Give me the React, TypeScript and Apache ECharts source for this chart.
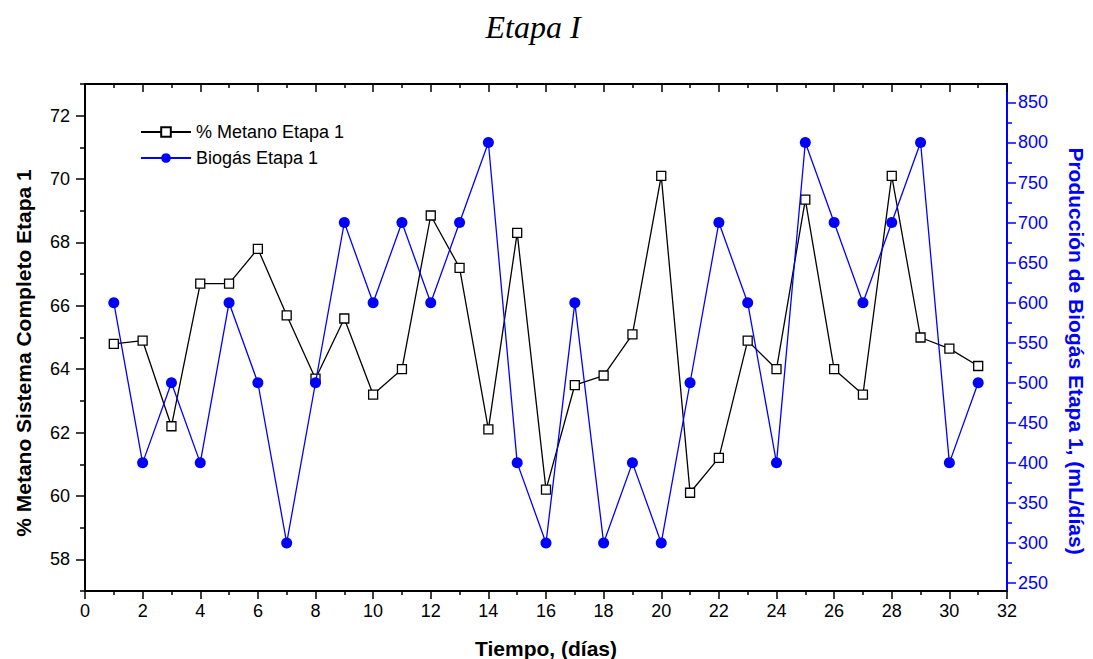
import React, { useEffect, useRef } from "react";
import * as echarts from "echarts";

const days = [1, 2, 3, 4, 5, 6, 7, 8, 9, 10, 11, 12, 13, 14, 15, 16, 17, 18, 19, 20, 21, 22, 23, 24, 25, 26, 27, 28, 29, 30, 31];
const metano = [64.8, 64.9, 62.2, 66.7, 66.7, 67.8, 65.7, 63.7, 65.6, 63.2, 64.0, 68.85, 67.2, 62.1, 68.3, 60.2, 63.5, 63.8, 65.1, 70.1, 60.1, 61.2, 64.9, 64.0, 69.35, 64.0, 63.2, 70.1, 65.0, 64.65, 64.1];
const biogas = [600, 400, 500, 400, 600, 500, 300, 500, 700, 600, 700, 600, 700, 800, 400, 300, 600, 300, 400, 300, 500, 700, 600, 400, 800, 700, 600, 700, 800, 400, 500];

const leftMajor = [58, 60, 62, 64, 66, 68, 70, 72];
const rightMajor = [250, 300, 350, 400, 450, 500, 550, 600, 650, 700, 750, 800, 850];
const rightMinor = [275, 325, 375, 425, 475, 525, 575, 625, 675, 725, 775, 825];

const seriesNames = ["% Metano Etapa 1", "Biogás Etapa 1"];
const title = "Etapa I";
const xName = "Tiempo, (días)";
const yLeftName = "% Metano Sistema Completo Etapa 1";
const yRightName = "Producción de Biogás Etapa 1, (mL/días)";

const FONT = "Liberation Sans, Arial, sans-serif";
const BLUE = "#0000ff";

export default function App() {
  const ref = useRef<HTMLDivElement>(null);
  useEffect(() => {
    document.body.style.margin = "0";
    const chart = echarts.init(ref.current!, undefined, { renderer: "svg" });
    const labelStyle = { fontFamily: FONT, fontSize: 18, color: "#000" };
    const option: any = {
      animation: false,
      backgroundColor: "#fff",
      grid: { left: 85, right: 86, top: 84, bottom: 68, containLabel: false, outerBoundsMode: "none" },
      legend: {
        orient: "vertical",
        left: 140,
        top: 123,
        padding: 0,
        itemWidth: 50,
        itemHeight: 12,
        itemGap: 8,
        textStyle: { fontFamily: FONT, fontSize: 18, color: "#000" },
        data: seriesNames,
      },
      xAxis: [
        {
          type: "value",
          min: 0,
          max: 32,
          interval: 2,
          position: "bottom",
          axisLine: { show: true, onZero: false, lineStyle: { color: "#000", width: 2 } },
          axisTick: { show: true, length: 8, lineStyle: { color: "#000", width: 1.5 } },
          minorTick: { show: true, splitNumber: 2, length: 4, lineStyle: { color: "#000", width: 1.5 } },
          axisLabel: { ...labelStyle, margin: 11 },
          splitLine: { show: false },
        },
        {
          type: "value",
          min: 0,
          max: 32,
          interval: 2,
          position: "top",
          axisLine: { show: true, onZero: false, lineStyle: { color: "#000", width: 2 } },
          axisTick: { show: true, inside: true, length: 8, lineStyle: { color: "#000", width: 1.5 } },
          minorTick: { show: true, splitNumber: 2, length: 4, lineStyle: { color: "#000", width: 1.5 } },
          axisLabel: { show: false },
          splitLine: { show: false },
        },
      ],
      yAxis: [
        {
          type: "value",
          min: 57,
          max: 73,
          interval: 2,
          position: "left",
          axisLine: { show: true, onZero: false, lineStyle: { color: "#000", width: 2 } },
          axisTick: { show: true, length: 5, lineStyle: { color: "#000", width: 1.5 } },
          minorTick: { show: true, splitNumber: 2, length: 9, lineStyle: { color: "#000", width: 1.5 } },
          axisLabel: { ...labelStyle, margin: 15, customValues: leftMajor },
          splitLine: { show: false },
          minorSplitLine: { show: false },
        },
        {
          type: "value",
          min: 240,
          max: 873,
          position: "right",
          axisLine: { show: true, onZero: false, lineStyle: { color: BLUE, width: 2 } },
          axisTick: { show: true, length: 9, customValues: rightMajor, lineStyle: { color: BLUE, width: 1.5 } },
          axisLabel: { fontFamily: FONT, fontSize: 18, color: BLUE, margin: 11, customValues: rightMajor },
          splitLine: { show: false },
        },
        {
          type: "value",
          min: 240,
          max: 873,
          position: "right",
          axisLine: { show: false, onZero: false },
          axisTick: { show: true, inside: false, length: 5, customValues: rightMinor, lineStyle: { color: BLUE, width: 1.5 } },
          axisLabel: { show: false, customValues: rightMinor },
          splitLine: { show: false },
        },
      ],
      series: [
        {
          name: seriesNames[0],
          type: "line",
          xAxisIndex: 0,
          yAxisIndex: 0,
          data: days.map((d, i) => [d, metano[i]]),
          symbol: "rect",
          symbolSize: 9,
          lineStyle: { color: "#000", width: 1.3 },
          itemStyle: { color: "#fff", borderColor: "#000", borderWidth: 1.3 },
          z: 2,
        },
        {
          name: seriesNames[1],
          type: "line",
          xAxisIndex: 0,
          yAxisIndex: 1,
          data: days.map((d, i) => [d, biogas[i]]),
          symbol: "circle",
          symbolSize: 11,
          lineStyle: { color: BLUE, width: 1.3 },
          itemStyle: { color: BLUE, borderWidth: 0 },
          z: 3,
        },
      ],
      graphic: [
        {
          type: "text",
          x: 533,
          y: 27,
          style: { text: title, font: "italic 32px 'Liberation Serif', 'Times New Roman', serif", fill: "#000", textAlign: "center", textVerticalAlign: "middle" },
        },
        {
          type: "text",
          x: 546,
          y: 648,
          style: { text: xName, font: `bold 21px ${FONT}`, fill: "#000", textAlign: "center", textVerticalAlign: "middle" },
        },
        {
          type: "text",
          x: 23,
          y: 353,
          rotation: Math.PI / 2,
          style: { text: yLeftName, font: `bold 21px ${FONT}`, fill: "#000", textAlign: "center", textVerticalAlign: "middle" },
        },
        {
          type: "text",
          x: 1076,
          y: 351,
          rotation: -Math.PI / 2,
          style: { text: yRightName, font: `bold 21px ${FONT}`, fill: BLUE, textAlign: "center", textVerticalAlign: "middle" },
        },
      ],
    };
    chart.setOption(option);
    return () => chart.dispose();
  }, []);
  return <div ref={ref} style={{ position: "fixed", left: 0, top: 0, width: 1093, height: 659, background: "#fff" }} />;
}
